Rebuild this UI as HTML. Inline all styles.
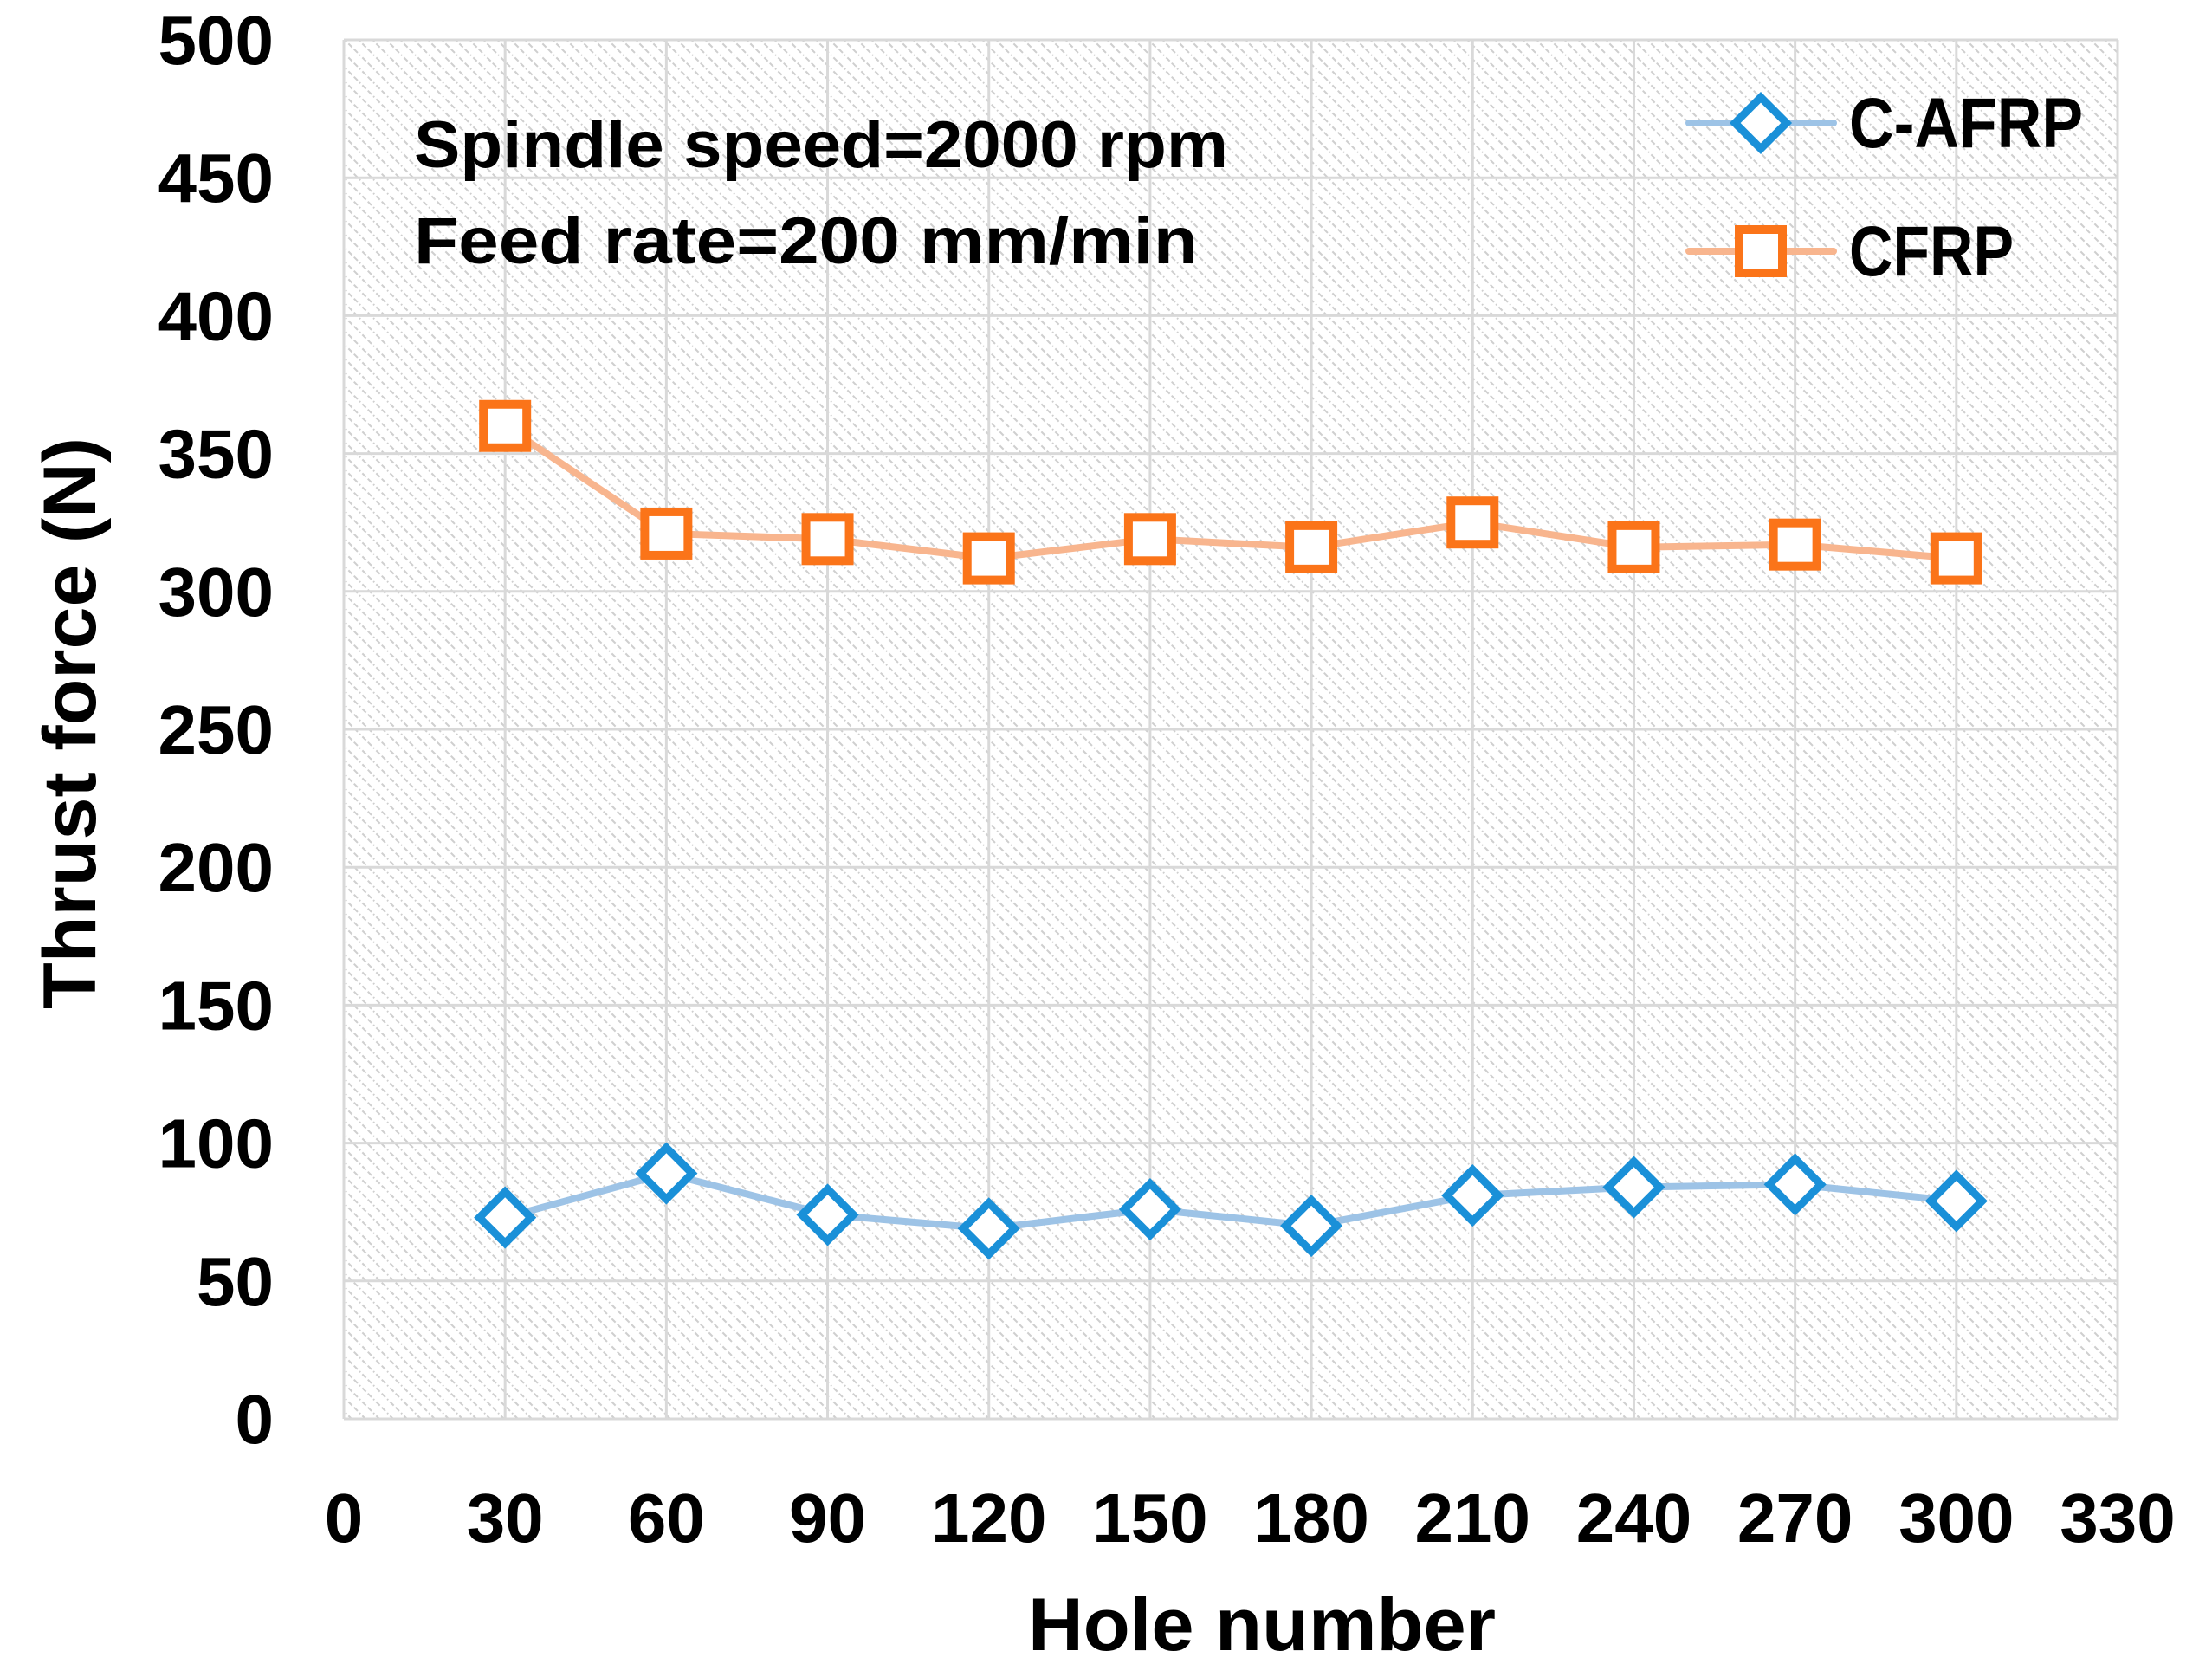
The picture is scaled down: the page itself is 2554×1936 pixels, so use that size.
<!DOCTYPE html>
<html><head><meta charset="utf-8"><style>html,body{margin:0;padding:0;background:#fff}svg{display:block}text{font-family:"Liberation Sans",sans-serif;font-weight:bold;fill:#000}</style></head>
<body>
<svg id="chart" width="2554" height="1936" viewBox="0 0 2554 1936" xmlns="http://www.w3.org/2000/svg">
<defs>
<pattern id="hatch" width="16" height="16" patternUnits="userSpaceOnUse">
<rect width="16" height="16" fill="#ffffff"/>
<path d="M-4,-4 L20,20 M-4,12 L4,20 M12,-4 L20,4" stroke="#cfcfcf" stroke-width="2" stroke-dasharray="6,3"/>
</pattern>
</defs>
<rect x="397" y="46" width="2048" height="1592" fill="url(#hatch)"/>
<g id="grid"></g>
<g id="axes"></g>
<g id="series"></g>
<text transform="translate(110,835) rotate(-90)" text-anchor="middle" font-size="86" textLength="660" lengthAdjust="spacingAndGlyphs">Thrust force (N)</text>
<text x="1457" y="1905" text-anchor="middle" font-size="86" textLength="540" lengthAdjust="spacingAndGlyphs">Hole number</text>
<text x="478" y="193" font-size="76" textLength="940" lengthAdjust="spacingAndGlyphs">Spindle speed=2000 rpm</text>
<text x="478" y="304" font-size="76" textLength="905" lengthAdjust="spacingAndGlyphs">Feed rate=200 mm/min</text>
<g>
<line x1="1950" y1="142" x2="2117" y2="142" stroke="#9DC3E6" stroke-width="8" stroke-linecap="round"/>
<rect x="2012" y="121" width="42" height="42" transform="rotate(45 2033 142)" fill="#fff" stroke="#1A90D8" stroke-width="9"/>
<text x="2135" y="170" font-size="82" textLength="270" lengthAdjust="spacingAndGlyphs">C-AFRP</text>
<line x1="1950" y1="290" x2="2117" y2="290" stroke="#F8B58E" stroke-width="8" stroke-linecap="round"/>
<rect x="2008" y="265" width="50" height="50" fill="#fff" stroke="#FB7419" stroke-width="10"/>
<text x="2135" y="318" font-size="82" textLength="190" lengthAdjust="spacingAndGlyphs">CFRP</text>
</g>
</svg>
<script>
const holes=[30,60,90,120,150,180,210,240,270,300];
const cfrpValues=[360,321,319,312,319,316,325,316,317,312];
const cafrpValues=[73,89,74,69,76,70,81,84,85,79];
const yTicks=[0,50,100,150,200,250,300,350,400,450,500];
const xTicks=[0,30,60,90,120,150,180,210,240,270,300,330];
const NS='http://www.w3.org/2000/svg';
const X0=397,X1=2445,Y0=1638,Y1=46;
function xs(v){return X0+(v-0)/(330-0)*(X1-X0);}
function ys(v){return Y0-(v-0)/(500-0)*(Y0-Y1);}
function mk(tag,attrs,parent){const e=document.createElementNS(NS,tag);for(const k in attrs)e.setAttribute(k,attrs[k]);parent.appendChild(e);return e;}
const grid=document.getElementById('grid'),axes=document.getElementById('axes'),series=document.getElementById('series');
yTicks.forEach(t=>{
 const l=mk('line',{x1:X0,x2:X1,y1:ys(t),y2:ys(t),stroke:'#d9d9d9','stroke-width':3},grid);
 
 
 const tx=mk('text',{x:316,y:ys(t)+28,'text-anchor':'end','font-size':80},axes);
 
 
 tx.textContent=t;
});
xTicks.forEach(t=>{
 const l=mk('line',{x1:xs(t),x2:xs(t),y1:Y1,y2:Y0,stroke:'#d9d9d9','stroke-width':3},grid);
 
 
 const tx=mk('text',{x:xs(t),y:1780,'text-anchor':'middle','font-size':80},axes);
 
 
 tx.textContent=t;
});
function drawLine(vals,color,name){
 const p=mk('polyline',{points:vals.map((v,i)=>xs(holes[i])+','+ys(v)).join(' '),fill:'none',stroke:color,'stroke-width':8,'stroke-linejoin':'round'},series);
 
 
}
drawLine(cafrpValues,'#9DC3E6','c-afrp');
drawLine(cfrpValues,'#F8B58E','cfrp');
cafrpValues.forEach((v,i)=>{
 const cx=xs(holes[i]),cy=ys(v);
 const r=mk('rect',{x:cx-21,y:cy-21,width:42,height:42,transform:`rotate(45 ${cx} ${cy})`,fill:'#fff',stroke:'#1A90D8','stroke-width':9},series);
 
 
});
cfrpValues.forEach((v,i)=>{
 const cx=xs(holes[i]),cy=ys(v);
 const r=mk('rect',{x:cx-25,y:cy-25,width:50,height:50,fill:'#fff',stroke:'#FB7419','stroke-width':10},series);
 
 
});
</script>
</body></html>
